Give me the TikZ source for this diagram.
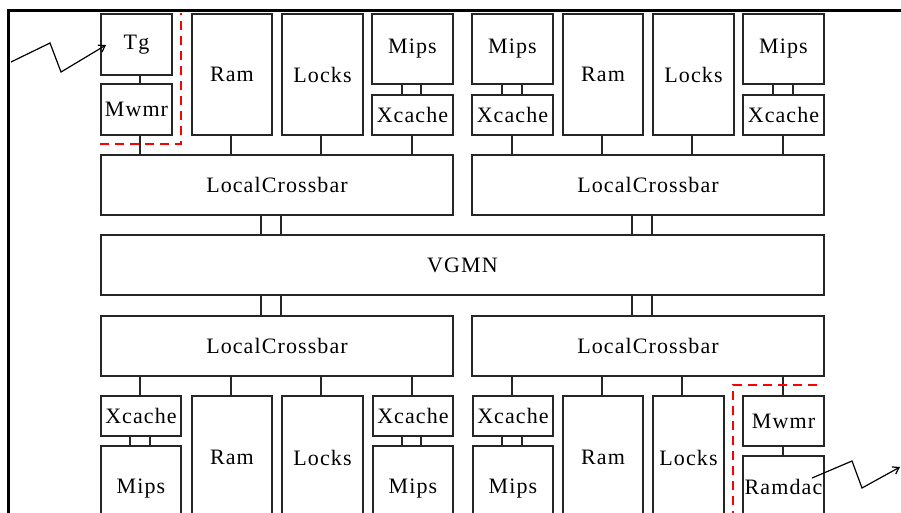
\documentclass[tikz,border=0pt]{standalone}
\usepackage{fontspec}
\setmainfont{Liberation Serif}
\newfontfamily\boxfont[LetterSpace=5]{Liberation Serif}
\usetikzlibrary{arrows.meta}
\tikzset{
  box/.style={draw=black!85, line width=2pt, rectangle, inner sep=0pt, anchor=north west,
    font=\boxfont\fontsize{22}{25}\selectfont},
  wire/.style={draw=black!85, line width=2pt},
  reddash/.style={draw=red, line width=2pt, dash pattern=on 9pt off 6pt},
  zig/.style={draw=black, line width=1.2pt, -{Straight Barb[length=6pt,width=8pt]}},
  frameline/.style={draw=black, line width=3pt}
}
\newcommand\bx[6]{\node[box, minimum width={(#4-#2)*1pt}, minimum height={(#5-#3)*1pt}] (#1) at (#2,#3) {#6};}
\begin{document}
\begin{tikzpicture}[x=1pt,y=-1pt]
\useasboundingbox (0,0) rectangle (901,512);
\clip (0,0) rectangle (901,512);
\fill[white] (0,0) rectangle (901,512);
% frame
\draw[frameline] (8,520) -- (8,10) -- (905,10);
% top row left
\bx{tg}{100}{13}{171}{74}{Tg}
\bx{mwA}{100}{83}{171}{134}{Mwmr}
\bx{ramA}{191}{13}{271}{134}{Ram}
\bx{lockA}{281}{13}{362}{134}{Locks}
\bx{mipsA}{371}{13}{452}{83}{Mips}
\bx{xcA}{371}{94}{452}{134}{Xcache}
% top row right
\bx{mipsB}{471}{13}{552}{83}{Mips}
\bx{xcB}{471}{94}{552}{134}{Xcache}
\bx{ramB}{562}{13}{642}{134}{Ram}
\bx{lockB}{652}{13}{733}{134}{Locks}
\bx{mipsC}{742}{13}{823}{83}{Mips}
\bx{xcC}{742}{94}{823}{134}{Xcache}
% crossbars and VGMN
\bx{lcA}{100}{154}{452}{214}{LocalCrossbar}
\bx{lcB}{471}{154}{823}{214}{LocalCrossbar}
\bx{vgmn}{100}{234}{823}{294}{VGMN}
\bx{lcC}{100}{315}{452}{375}{LocalCrossbar}
\bx{lcD}{471}{315}{823}{375}{LocalCrossbar}
% bottom row left
\bx{xcD}{100}{395}{180}{435}{Xcache}
\bx{mipsD}{100}{445}{180}{531}{Mips}
\bx{ramC}{191}{395}{271}{518}{Ram}
\bx{lockC}{281}{395}{362}{518}{Locks}
\bx{xcE}{372}{395}{452}{435}{Xcache}
\bx{mipsE}{372}{445}{452}{531}{Mips}
% bottom row right
\bx{xcF}{472}{395}{552}{435}{Xcache}
\bx{mipsF}{472}{445}{552}{531}{Mips}
\bx{ramD}{562}{395}{642}{518}{Ram}
\bx{lockD}{652}{395}{723}{518}{Locks}
\bx{mwB}{742}{395}{823}{445}{Mwmr}
\bx{rdac}{742}{455}{823}{516}{Ramdac}
% connectors top
\draw[wire] (140,0 |- tg.south) -- (140,0 |- mwA.north);
\draw[wire] (140,0 |- mwA.south) -- (140,0 |- lcA.north);
\draw[wire] (231,0 |- ramA.south) -- (231,0 |- lcA.north);
\draw[wire] (321,0 |- lockA.south) -- (321,0 |- lcA.north);
\draw[wire] (402,0 |- mipsA.south) -- (402,0 |- xcA.north);
\draw[wire] (421,0 |- mipsA.south) -- (421,0 |- xcA.north);
\draw[wire] (412,0 |- xcA.south) -- (412,0 |- lcA.north);
\draw[wire] (502,0 |- mipsB.south) -- (502,0 |- xcB.north);
\draw[wire] (522,0 |- mipsB.south) -- (522,0 |- xcB.north);
\draw[wire] (512,0 |- xcB.south) -- (512,0 |- lcB.north);
\draw[wire] (602,0 |- ramB.south) -- (602,0 |- lcB.north);
\draw[wire] (692,0 |- lockB.south) -- (692,0 |- lcB.north);
\draw[wire] (773,0 |- mipsC.south) -- (773,0 |- xcC.north);
\draw[wire] (793,0 |- mipsC.south) -- (793,0 |- xcC.north);
\draw[wire] (783,0 |- xcC.south) -- (783,0 |- lcB.north);
% crossbar - vgmn
\draw[wire] (261,0 |- lcA.south) -- (261,0 |- vgmn.north);
\draw[wire] (281,0 |- lcA.south) -- (281,0 |- vgmn.north);
\draw[wire] (632,0 |- lcB.south) -- (632,0 |- vgmn.north);
\draw[wire] (652,0 |- lcB.south) -- (652,0 |- vgmn.north);
\draw[wire] (261,0 |- vgmn.south) -- (261,0 |- lcC.north);
\draw[wire] (281,0 |- vgmn.south) -- (281,0 |- lcC.north);
\draw[wire] (632,0 |- vgmn.south) -- (632,0 |- lcD.north);
\draw[wire] (652,0 |- vgmn.south) -- (652,0 |- lcD.north);
% connectors bottom
\draw[wire] (140,0 |- xcD.north) -- (140,0 |- lcC.south);
\draw[wire] (130,0 |- xcD.south) -- (130,0 |- mipsD.north);
\draw[wire] (150,0 |- xcD.south) -- (150,0 |- mipsD.north);
\draw[wire] (231,0 |- ramC.north) -- (231,0 |- lcC.south);
\draw[wire] (321,0 |- lockC.north) -- (321,0 |- lcC.south);
\draw[wire] (412,0 |- xcE.north) -- (412,0 |- lcC.south);
\draw[wire] (402,0 |- xcE.south) -- (402,0 |- mipsE.north);
\draw[wire] (421,0 |- xcE.south) -- (421,0 |- mipsE.north);
\draw[wire] (512,0 |- xcF.north) -- (512,0 |- lcD.south);
\draw[wire] (502,0 |- xcF.south) -- (502,0 |- mipsF.north);
\draw[wire] (522,0 |- xcF.south) -- (522,0 |- mipsF.north);
\draw[wire] (602,0 |- ramD.north) -- (602,0 |- lcD.south);
\draw[wire] (682,0 |- lockD.north) -- (682,0 |- lcD.south);
\draw[wire] (783,0 |- mwB.north) -- (783,0 |- lcD.south);
\draw[wire] (783,0 |- mwB.south) -- (783,0 |- rdac.north);
% red dashed groups
\draw[reddash] (100,144) -- (181,144) -- (181,13);
\draw[reddash] (733,520) -- (733,385) -- (823,385);
% zigzag links
\coordinate (zA0) at (11,62);
\coordinate (zA1) at (50,43);
\coordinate (zA2) at (61,72);
\coordinate (zA3) at (106,45);
\draw[zig] (zA0) -- (zA1) -- (zA2) -- (zA3);
\coordinate (zB0) at (812,478);
\coordinate (zB1) at (852,461);
\coordinate (zB2) at (862,488);
\coordinate (zB3) at (900,467);
\draw[zig] (zB0) -- (zB1) -- (zB2) -- (zB3);
\end{tikzpicture}
\end{document}
